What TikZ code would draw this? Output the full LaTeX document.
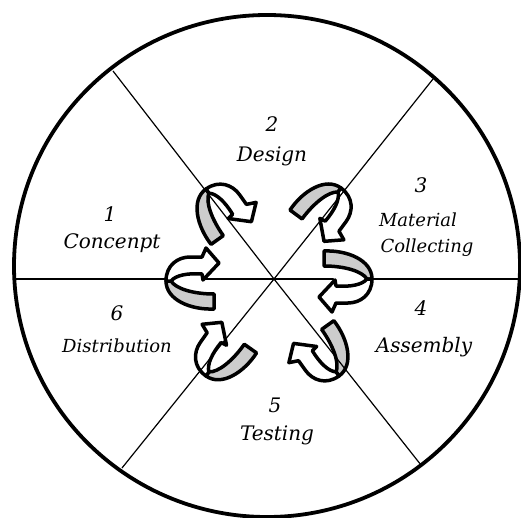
\documentclass[tikz,border=0pt]{standalone}
\usepackage{fontspec}
\setmainfont{DejaVu Serif}
\begin{document}
\begin{tikzpicture}[x=1pt,y=-1pt,
  rim/.style={line width=3.8pt},
  divider/.style={line width=1.2pt},
  ribbonback/.style={fill=black!20,draw=black,line width=3.5pt,line join=round},
  ribbonfront/.style={fill=white,draw=black,line width=3.5pt,line join=round},
  big/.style={font=\itshape\fontsize{20}{24}\selectfont,anchor=base,inner sep=0pt},
  small/.style={font=\itshape\fontsize{18}{22}\selectfont,anchor=base,inner sep=0pt},
  cyclearrow/.pic={
    \fill[white] (-48,-28) .. controls (-25,-29) and (0,-19) .. (0,0)
      .. controls (0,16) and (-12,24) .. (-24,24) -- (-36,24) -- (-40,33)
      -- (-53,18) -- (-37,1) -- (-48,-13) -- cycle;
    \filldraw[ribbonback] (-48,-28) .. controls (-25,-29) and (0,-19) .. (0,0)
      -- (-5,0) .. controls (-10,-8) and (-28,-13) .. (-48,-13) -- cycle;
    \filldraw[ribbonfront] (0,0) .. controls (0,16) and (-12,24) .. (-24,24)
      -- (-36,24) -- (-40,33) -- (-53,18) -- (-37,1) -- (-36,7)
      .. controls (-22,8) and (-10,6) .. (-5,0) -- cycle;
  }]
\useasboundingbox (0,0) rectangle (521,518);
\fill[white] (0,0) rectangle (521,518);
% geometry
\coordinate (O) at (274,279);
\coordinate (hl) at (14,279);
\coordinate (hr) at (521,279);
\coordinate (ul) at (113,71);
\coordinate (lr) at (421,465);
\coordinate (ur) at (433,79);
\coordinate (ll) at (122,468);
\draw[divider] (hl) -- (hr);
% arrows
\pic at (372,279) {cyclearrow};
\pic[rotate=53.6] at (341,188) {cyclearrow};
\pic[rotate=125.5] at (206,189) {cyclearrow};
\pic[rotate=180] at (166,281) {cyclearrow};
\pic[rotate=234.8] at (206,376) {cyclearrow};
\pic[rotate=305.6] at (339,376) {cyclearrow};
\draw[divider] (ul) -- (O) -- (lr);
\draw[divider] (ur) -- (O) -- (ll);
\draw[rim] (267,266) ellipse [x radius=253, y radius=251];
% labels
\node[big] (n2) at (272,132) {2};
\node[big] (l2) at (272,162) {Design};
\node[big] (n1) at (110,222) {1};
\node[big] (l1) at (112,249) {Concenpt};
\node[big] (n3) at (421,193) {3};
\node[small] (l3a) at (418,227) {Material};
\node[small] (l3b) at (427,253) {Collecting};
\node[big] (n4) at (421,315) {4};
\node[big] (l4) at (424,352) {Assembly};
\node[big] (n5) at (275,412) {5};
\node[big] (l5) at (277,440) {Testing};
\node[big] (n6) at (117,320) {6};
\node[small] (l6) at (117,352) {Distribution};
\end{tikzpicture}
\end{document}
